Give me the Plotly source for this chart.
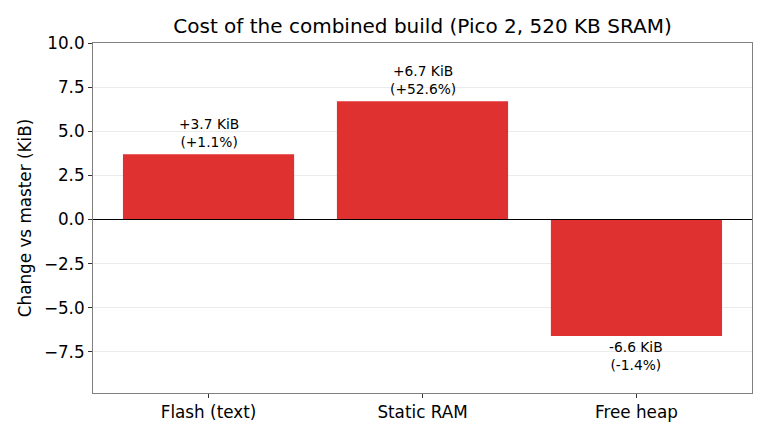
import plotly.graph_objects as go

categories = ["Flash (text)", "Static RAM", "Free heap"]
values = [3.7, 6.7, -6.6]
labels = ["+3.7 KiB<br>(+1.1%)", "+6.7 KiB<br>(+52.6%)", "-6.6 KiB<br>(-1.4%)"]
tick_vals = [-7.5, -5.0, -2.5, 0.0, 2.5, 5.0, 7.5, 10.0]
tick_text = ["−7.5", "−5.0", "−2.5", "0.0", "2.5", "5.0", "7.5", "10.0"]

FONT = "DejaVu Sans"

fig = go.Figure()
fig.add_trace(go.Bar(
    x=list(range(len(categories))), y=values, width=0.8,
    marker=dict(color="#e03131", line=dict(width=0)),
))

for i, (v, t) in enumerate(zip(values, labels)):
    fig.add_annotation(
        x=i, y=v, text=t, showarrow=False,
        yanchor="bottom" if v >= 0 else "top",
        yshift=2 if v >= 0 else -1,
        font=dict(family=FONT, size=13.8, color="black"),
    )

fig.add_shape(type="line", xref="paper", x0=0, x1=1, yref="y", y0=0, y1=0,
              line=dict(color="black", width=1))

fig.update_layout(
    width=770, height=440,
    margin=dict(l=93, r=18, t=43, b=47),
    paper_bgcolor="white", plot_bgcolor="white",
    showlegend=False,
    title=dict(text="Cost of the combined build (Pico 2, 520 KB SRAM)",
               x=(93 + 752) / 2 / 770, xanchor="center", y=1 - 26 / 440, yanchor="middle",
               font=dict(family=FONT, size=20, color="black")),
    font=dict(family=FONT, color="black"),
)
fig.update_xaxes(
    range=[-0.54, 2.54], tickvals=list(range(len(categories))), ticktext=categories,
    showgrid=False, zeroline=False,
    showline=True, linecolor="#808080", linewidth=1, mirror=True,
    ticks="outside", ticklen=4, tickcolor="#333333",
    tickfont=dict(family=FONT, size=16.8, color="black"),
)
fig.update_yaxes(
    range=[-9.83, 10.0], tickvals=tick_vals, ticktext=tick_text,
    showgrid=True, gridcolor="#ebebeb", gridwidth=1, zeroline=False,
    showline=True, linecolor="#808080", linewidth=1, mirror=True,
    ticks="outside", ticklen=4, tickcolor="#333333",
    tickfont=dict(family=FONT, size=16.8, color="black"),
    title=dict(text="Change vs master (KiB)", font=dict(family=FONT, size=16.8, color="black"),
               standoff=8),
)

fig.write_html("out.html")
